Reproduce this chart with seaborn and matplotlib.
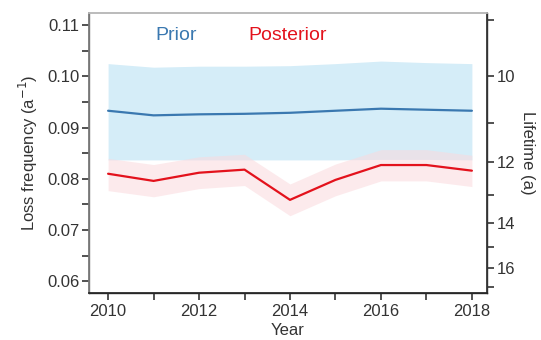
import numpy as np
import pandas as pd
import matplotlib
matplotlib.use("Agg")
import matplotlib.pyplot as plt
import seaborn as sns

# Annual loss frequency estimates (per year)
years = [2010, 2011, 2012, 2013, 2014, 2015, 2016, 2017, 2018]
prior_mean = [0.0933, 0.0924, 0.0926, 0.0927, 0.0929, 0.0933, 0.0937, 0.0935, 0.0933]
prior_low = [0.0837, 0.0837, 0.0837, 0.0837, 0.0837, 0.0837, 0.0838, 0.0838, 0.0837]
prior_high = [0.1025, 0.1018, 0.1020, 0.1020, 0.1021, 0.1025, 0.1030, 0.1027, 0.1025]
post_mean = [0.0810, 0.0796, 0.0812, 0.0818, 0.0759, 0.0798, 0.0827, 0.0827, 0.0816]
post_low = [0.0777, 0.0765, 0.0781, 0.0787, 0.0728, 0.0767, 0.0796, 0.0796, 0.0785]
post_high = [0.0840, 0.0828, 0.0843, 0.0848, 0.0790, 0.0829, 0.0857, 0.0857, 0.0846]

lifetime_ticks = [10, 12, 14, 16]
lifetime_minor = [9, 11, 13, 15, 17]

sns.set_theme(style="ticks")
plt.rcParams["font.family"] = ["Liberation Sans", "DejaVu Sans"]

df = pd.DataFrame({
    "Year": years * 2,
    "value": prior_mean + post_mean,
    "series": ["Prior"] * len(years) + ["Posterior"] * len(years),
})

blue = "#3a78b0"
red = "#e3121c"
dark = "#333333"
fs = 12

fig = plt.figure(figsize=(5.41, 3.40), dpi=100)
ax = fig.add_axes([0.1645, 0.138, 0.7355, 0.824])

ax.fill_between(years, prior_low, prior_high, color="#d5edf8", lw=0, zorder=1)
ax.fill_between(years, post_low, post_high, color="#fbd9dd", alpha=0.55, lw=0, zorder=2)
sns.lineplot(data=df, x="Year", y="value", hue="series",
             palette={"Prior": blue, "Posterior": red},
             linewidth=1.6, legend=False, ax=ax, zorder=3)

ax.set_xlim(2009.58, 2018.33)
ax.set_ylim(0.0577, 0.1124)
ax.set_xticks(years)
ax.set_xticklabels([str(y) if y % 2 == 0 else "" for y in years])
ax.set_yticks([0.06, 0.07, 0.08, 0.09, 0.10, 0.11])
ax.set_yticklabels(["0.06", "0.07", "0.08", "0.09", "0.10", "0.11"])
ax.set_yticks(np.arange(0.065, 0.11, 0.01), minor=True)
ax.tick_params(axis="both", which="both", direction="out", length=5, width=1.2,
               color=dark, labelcolor=dark, labelsize=fs, pad=2)
ax.tick_params(axis="x", pad=3)
ax.set_xlabel("Year", fontsize=fs, color=dark, labelpad=3)
ax.set_ylabel("Loss frequency (a$^{-1}$)", fontsize=fs, color=dark, labelpad=5)

for side in ["left", "bottom", "right"]:
    ax.spines[side].set_color(dark)
    ax.spines[side].set_linewidth(1.0)
ax.spines["left"].set_color("#777777")
ax.spines["top"].set_visible(True)
ax.spines["top"].set_color("#bbbbbb")
ax.spines["right"].set_visible(True)

# Lifetime axis (reciprocal of loss frequency)
ax2 = ax.twinx()
ax2.set_ylim(ax.get_ylim())
ax2.set_yticks([1.0 / t for t in lifetime_ticks])
ax2.set_yticklabels([str(t) for t in lifetime_ticks])
ax2.set_yticks([1.0 / t for t in lifetime_minor], minor=True)
ax2.tick_params(axis="y", which="both", direction="out", length=5, width=1.2,
                color=dark, labelcolor=dark, labelsize=fs, pad=2)
ax2.set_ylabel("Lifetime (a)", rotation=270, fontsize=fs, color=dark, labelpad=14)
ax2.spines["right"].set_color(dark)
ax2.spines["top"].set_color("#bbbbbb")
ax2.spines["left"].set_color("#777777")

ax.text(2011.5, 0.1079, "Prior", color=blue, fontsize=14, ha="center", va="center")
ax.text(2013.95, 0.1079, "Posterior", color=red, fontsize=14, ha="center", va="center")

fig.savefig("out.png", dpi=100)
